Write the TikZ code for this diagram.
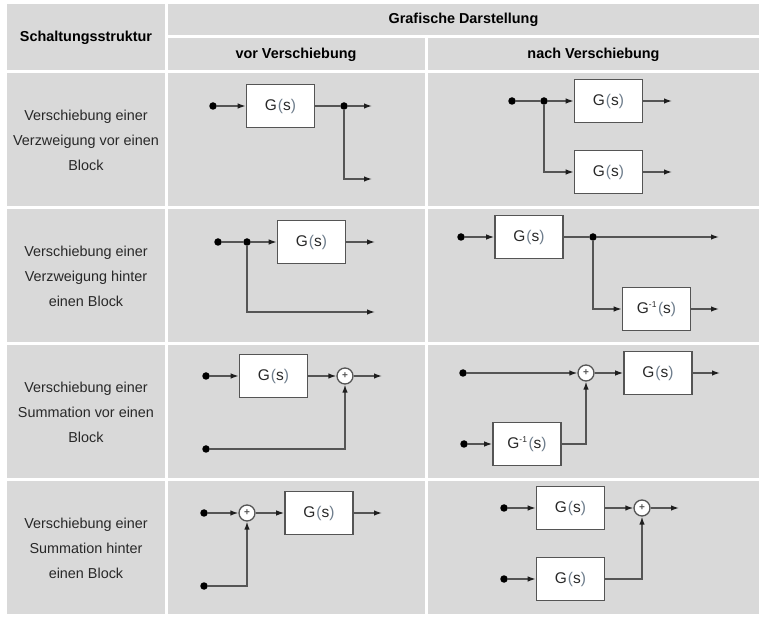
\documentclass[tikz,border=0pt]{standalone}
\usepackage{fontspec}
\setmainfont{Liberation Sans}
\usetikzlibrary{arrows.meta}
\definecolor{cellgray}{RGB}{217,217,217}
\definecolor{linegray}{RGB}{85,85,85}
\definecolor{pargray}{RGB}{110,125,140}
\definecolor{txtgray}{RGB}{40,40,40}
\definecolor{tipgray}{RGB}{30,30,30}
\newcommand\Gs{G\kern1pt{\color{pargray}(}s{\color{pargray})}}
\newcommand\Ginv{G\raisebox{5.5pt}{\fontsize{8.5}{8.5}\selectfont -1}\kern1.5pt{\color{pargray}(}s{\color{pargray})}}
\begin{document}
\begin{tikzpicture}[x=1pt,y=-1pt,
 sig/.style={draw=linegray,line width=1.3pt},
 arr/.style={-{Latex[length=8pt,width=5.5pt,color=tipgray]}},
 blk/.style={draw=linegray,line width=1.6pt,fill=white,minimum width=68pt,minimum height=43pt,inner sep=0pt,text=txtgray,font=\fontsize{15.5}{17}\selectfont},
 dot/.style={circle,fill=black,minimum size=7.5pt,inner sep=0pt},
 sumn/.style={circle,draw=linegray,line width=1.3pt,fill=white,minimum size=16pt,inner sep=0pt,text=linegray,font=\fontsize{10}{10}\selectfont\bfseries},
 hdr/.style={font=\fontsize{14.4}{17}\selectfont\bfseries,text=black},
 txt/.style={align=center,font=\fontsize{14.4}{25}\selectfont,text=txtgray}]
\useasboundingbox (0,0) rectangle (769,617);
% table
\fill[cellgray] (7,4) rectangle (759,614);
\draw[white,line width=3pt] (166,4) -- (166,614);
\draw[white,line width=3pt] (426,37) -- (426,614);
\draw[white,line width=3pt] (166,37) -- (759,37);
\foreach \yy in {72,208,344,480} \draw[white,line width=3pt] (7,\yy) -- (759,\yy);
% headers
\node[hdr] (h0) at (86,38) {Schaltungsstruktur};
\node[hdr] (h1) at (463.5,20) {Grafische Darstellung};
\node[hdr] (h2) at (296,55) {vor Verschiebung};
\node[hdr] (h3) at (593.5,55) {nach Verschiebung};
% left column
\node[txt] (t1) at (86,140) {Verschiebung einer\\Verzweigung vor einen\\Block};
\node[txt] (t2) at (86,276) {Verschiebung einer\\Verzweigung hinter\\einen Block};
\node[txt] (t3) at (86,412) {Verschiebung einer\\Summation vor einen\\Block};
\node[txt] (t4) at (86,548) {Verschiebung einer\\Summation hinter\\einen Block};
% ---- row 1 vor
\node[dot] (a1) at (213,106) {};
\node[blk] (a1g) at (280.5,106) {\Gs};
\node[dot] (a1b) at (344,106) {};
\coordinate (a1o) at (372,106);
\coordinate (a1p) at (372,179);
\draw[sig,arr] (a1) -- (a1g);
\draw[sig] (a1g) -- (a1b);
\draw[sig,arr] (a1b) -- (a1o);
\draw[sig,arr] (a1b) |- (a1p);
% ---- row 1 nach
\node[dot] (b1) at (512,101) {};
\node[dot] (b1b) at (544,101) {};
\node[blk] (b1g) at (608.5,101) {\Gs};
\node[blk] (b1h) at (608.5,172) {\Gs};
\coordinate (b1o) at (672,101);
\coordinate (b1p) at (672,172);
\draw[sig] (b1) -- (b1b);
\draw[sig,arr] (b1b) -- (b1g);
\draw[sig,arr] (b1b) |- (b1h);
\draw[sig,arr] (b1g) -- (b1o);
\draw[sig,arr] (b1h) -- (b1p);
% ---- row 2 vor
\node[dot] (a2) at (218,242) {};
\node[dot] (a2b) at (247,242) {};
\node[blk] (a2g) at (311.5,242) {\Gs};
\coordinate (a2o) at (375,242);
\coordinate (a2p) at (375,312);
\draw[sig] (a2) -- (a2b);
\draw[sig,arr] (a2b) -- (a2g);
\draw[sig,arr] (a2g) -- (a2o);
\draw[sig,arr] (a2b) |- (a2p);
% ---- row 2 nach
\node[dot] (b2) at (461,237) {};
\node[blk] (b2g) at (529,237) {\Gs};
\node[dot] (b2b) at (593,237) {};
\coordinate (b2o) at (719,237);
\node[blk] (b2h) at (656.5,309) {\Ginv};
\coordinate (b2p) at (719,309);
\draw[sig,arr] (b2) -- (b2g);
\draw[sig] (b2g) -- (b2b);
\draw[sig,arr] (b2b) -- (b2o);
\draw[sig,arr] (b2b) |- (b2h);
\draw[sig,arr] (b2h) -- (b2p);
% ---- row 3 vor
\node[dot] (a3) at (206,376) {};
\node[blk] (a3g) at (273.5,376) {\Gs};
\node[sumn] (a3s) at (345,376) {+};
\coordinate (a3o) at (382,376);
\node[dot] (a3l) at (206,449) {};
\draw[sig,arr] (a3) -- (a3g);
\draw[sig,arr] (a3g) -- (a3s);
\draw[sig,arr] (a3s) -- (a3o);
\draw[sig,arr] (a3l) -| (a3s);
% ---- row 3 nach
\node[dot] (b3) at (463,373) {};
\node[sumn] (b3s) at (586,373) {+};
\node[blk] (b3g) at (658,373) {\Gs};
\coordinate (b3o) at (720,373);
\node[dot] (b3l) at (464,444) {};
\node[blk] (b3h) at (527,444) {\Ginv};
\draw[sig,arr] (b3) -- (b3s);
\draw[sig,arr] (b3s) -- (b3g);
\draw[sig,arr] (b3g) -- (b3o);
\draw[sig,arr] (b3l) -- (b3h);
\draw[sig,arr] (b3h) -| (b3s);
% ---- row 4 vor
\node[dot] (a4) at (204,513) {};
\node[sumn] (a4s) at (247,513) {+};
\node[blk] (a4g) at (319,513) {\Gs};
\coordinate (a4o) at (382,513);
\node[dot] (a4l) at (204,586) {};
\draw[sig,arr] (a4) -- (a4s);
\draw[sig,arr] (a4s) -- (a4g);
\draw[sig,arr] (a4g) -- (a4o);
\draw[sig,arr] (a4l) -| (a4s);
% ---- row 4 nach
\node[dot] (b4) at (504,508) {};
\node[blk] (b4g) at (570.5,508) {\Gs};
\node[sumn] (b4s) at (642,508) {+};
\coordinate (b4o) at (679,508);
\node[dot] (b4l) at (504,579) {};
\node[blk] (b4h) at (570.5,579) {\Gs};
\draw[sig,arr] (b4) -- (b4g);
\draw[sig,arr] (b4g) -- (b4s);
\draw[sig,arr] (b4s) -- (b4o);
\draw[sig,arr] (b4l) -- (b4h);
\draw[sig,arr] (b4h) -| (b4s);
\end{tikzpicture}
\end{document}
